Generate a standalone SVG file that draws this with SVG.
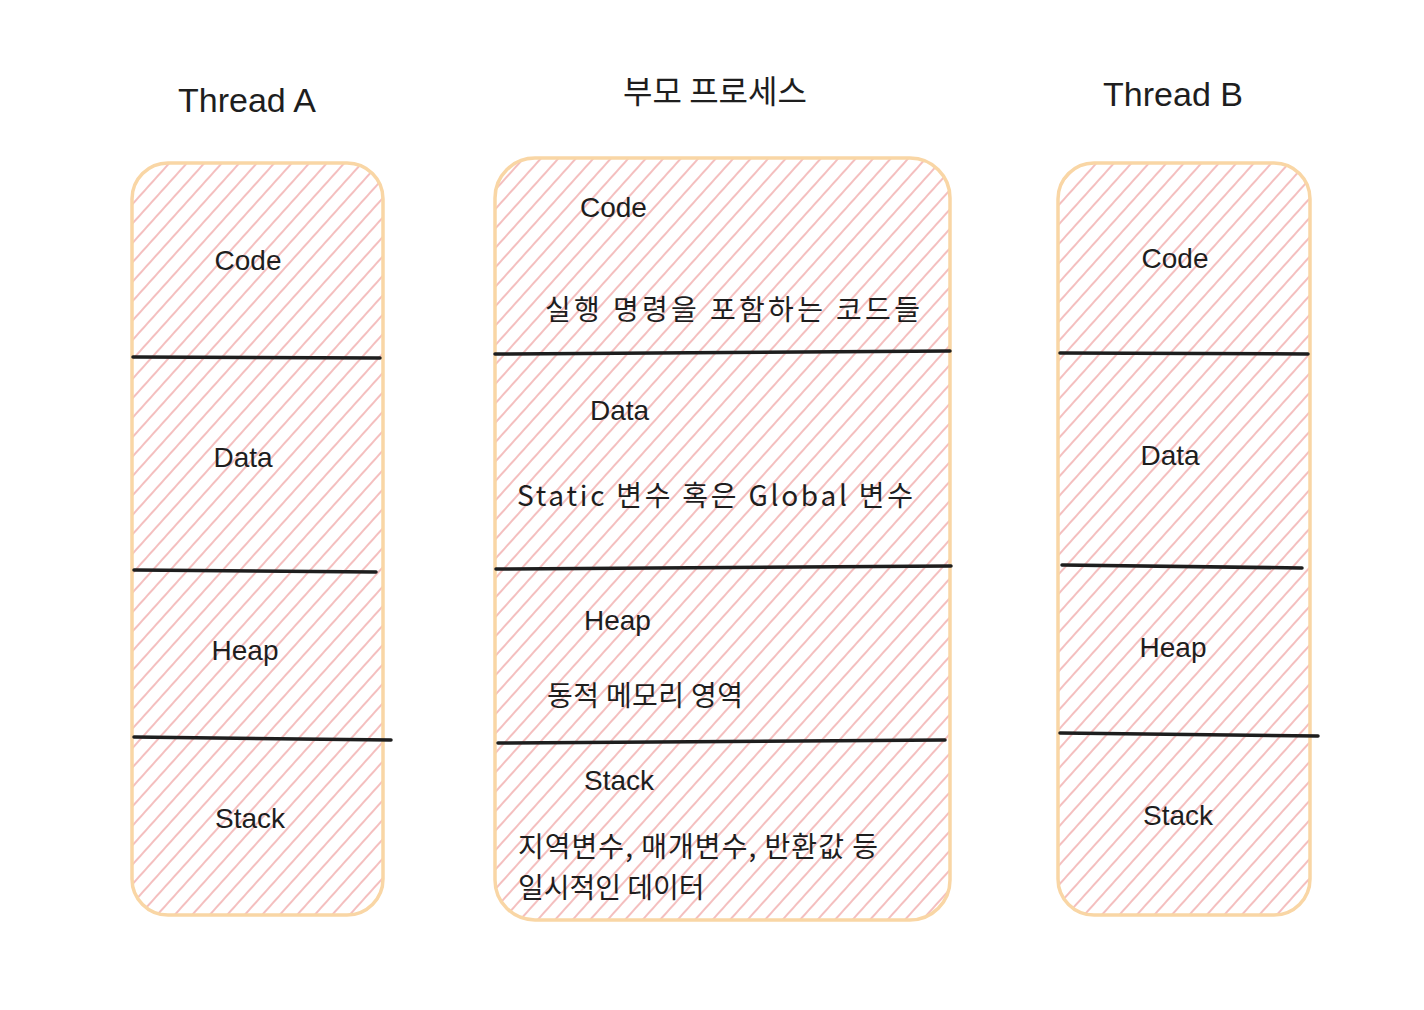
<svg xmlns="http://www.w3.org/2000/svg" width="1424" height="1010" viewBox="0 0 1424 1010">
<defs>
<pattern id="hach" patternUnits="userSpaceOnUse" width="13" height="13" patternTransform="rotate(42)">
<line x1="1" y1="0" x2="1" y2="13" stroke="#f2b4b4" stroke-width="1.7"/>
</pattern>
</defs>
<style>
.box{fill:url(#hach);stroke:#f9d6a5;stroke-width:3.5}
.div{stroke:#1e1e1e;stroke-width:3.5;stroke-linecap:round;fill:none}
.t{font-family:"Liberation Sans","Noto Sans CJK KR",sans-serif;font-size:28px;fill:#1e1e1e}
.m{text-anchor:middle}
.k{font-family:"Noto Sans CJK KR","Liberation Sans",sans-serif;font-size:28px;fill:#1e1e1e}
.ti{font-size:34px}
.tk{font-size:32px}
</style>
<rect width="1424" height="1010" fill="#ffffff"/>
<g id="title-a"><text class="t m ti" x="247" y="112">Thread A</text></g>
<g id="title-parent"><text class="k m tk" x="715" y="103">부모 프로세스</text></g>
<g id="title-b"><text class="t m ti" x="1173" y="106">Thread B</text></g>

<g id="thread-a">
<rect class="box" x="132" y="163" width="251" height="752" rx="36"/>
<text class="t m" x="248" y="270">Code</text>
<text class="t m" x="243" y="467">Data</text>
<text class="t m" x="245" y="660">Heap</text>
<text class="t m" x="250" y="828">Stack</text>
</g>

<g id="parent-process">
<rect class="box" x="495" y="158" width="455" height="762" rx="40"/>
<text class="t" x="580" y="217">Code</text>
<text class="k" x="545" y="320" textLength="375" lengthAdjust="spacing">실행 명령을 포함하는 코드들</text>
<text class="t" x="590" y="420">Data</text>
<text class="k" x="517" y="506" textLength="396" lengthAdjust="spacing">Static 변수 혹은 Global 변수</text>
<text class="t" x="584" y="630">Heap</text>
<text class="k" x="547" y="706" textLength="196" lengthAdjust="spacing">동적 메모리 영역</text>
<text class="t" x="584" y="790">Stack</text>
<text class="k" x="518" y="857" textLength="360" lengthAdjust="spacing">지역변수, 매개변수, 반환값 등</text>
<text class="k" x="518" y="898">일시적인 데이터</text>
</g>

<g id="thread-b">
<rect class="box" x="1058" y="163" width="252" height="752" rx="36"/>
<text class="t m" x="1175" y="268">Code</text>
<text class="t m" x="1170" y="465">Data</text>
<text class="t m" x="1173" y="657">Heap</text>
<text class="t m" x="1178" y="825">Stack</text>
</g>

<g id="connectors">
<path class="div" d="M133 357 L380 358"/>
<path class="div" d="M134 570 L376 572"/>
<path class="div" d="M134 737 L391 740"/>
<path class="div" d="M495 354 L950 351"/>
<path class="div" d="M496 569 L951 566"/>
<path class="div" d="M498 743 L945 740"/>
<path class="div" d="M1060 353 L1308 354"/>
<path class="div" d="M1062 565 L1302 568"/>
<path class="div" d="M1060 733 L1318 736"/>
</g>
</svg>
